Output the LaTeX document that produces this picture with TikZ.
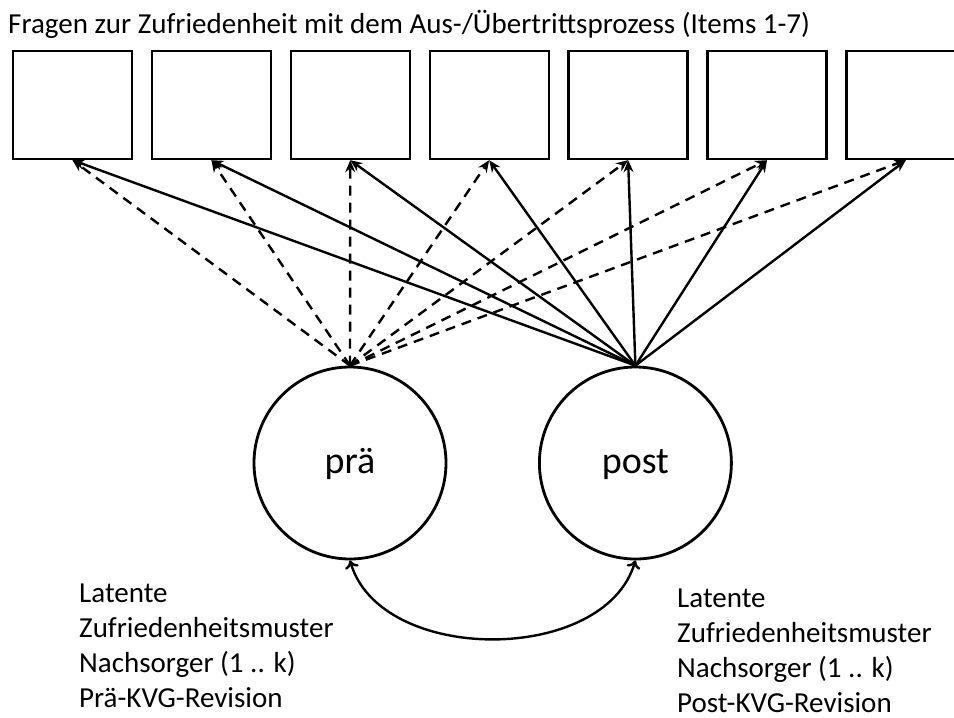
\documentclass[tikz,border=0pt]{standalone}
\usepackage{fontspec}
\setmainfont{Carlito}
\usetikzlibrary{automata, positioning, arrows.meta}

\begin{document}
\begin{tikzpicture}[x=1pt, y=-1pt, node distance=17.5pt,
	item/.style={draw, line width=2.4pt, minimum width=119pt, minimum height=108pt, inner sep=0pt},
	latent/.style={state, line width=2.8pt, minimum size=192pt, inner sep=0pt, text height=20pt, text depth=0pt, font=\fontsize{38}{42}\selectfont},
	preload/.style={line width=2.4pt, -{Stealth[length=12pt,width=10pt]}, dash pattern=on 10pt off 7pt},
	postload/.style={line width=2.4pt, -{Stealth[length=12pt,width=10pt]}},
	note/.style={align=left, anchor=base west, inner sep=0pt, font=\fontsize{29}{34.8}\selectfont}]
		\useasboundingbox (0,0) rectangle (954,718);
		
		\node[anchor=base west, inner sep=0pt, font=\fontsize{29}{34}\selectfont] (title) at (8,33) {Fragen zur Zufriedenheit mit dem Aus-/Übertrittsprozess (Items 1-7)};
		
		\node[item] (i1) at (72.5,105) {};
		\node[item, right=of i1] (i2) {};
		\node[item, right=of i2] (i3) {};
		\node[item, right=of i3] (i4) {};
		\node[item, right=of i4] (i5) {};
		\node[item, right=of i5] (i6) {};
		\node[item, right=of i6] (i7) {};
		
		\node[latent] (pra) at (350,463) {prä};
		\node[latent, right=90.6pt of pra] (post) {post};
		
		\draw (pra.north) edge[preload] (i1.south);
		\draw (pra.north) edge[preload] (i2.south);
		\draw (pra.north) edge[preload] (i3.south);
		\draw (pra.north) edge[preload] (i4.south);
		\draw (pra.north) edge[preload] (i5.south);
		\draw (pra.north) edge[preload] (i6.south);
		\draw (pra.north) edge[preload] (i7.south);
		
		\draw (post.north) edge[postload] (i1.south);
		\draw (post.north) edge[postload] (i2.south);
		\draw (post.north) edge[postload] (i3.south);
		\draw (post.north) edge[postload] (i4.south);
		\draw (post.north) edge[postload] (i5.south);
		\draw (post.north) edge[postload] (i6.south);
		\draw (post.north) edge[postload] (i7.south);
		
		\draw[line width=2.4pt, {To[length=8pt,width=14pt]}-{To[length=8pt,width=14pt]}] (pra.south) .. controls (380,665) and (605,665) .. (post.south);
		
		\node[note] (prenote) at (79,707) {Latente\\Zufriedenheitsmuster\\Nachsorger (1 .. k)\\Prä-KVG-Revision};
		\node[note] (postnote) at (677,712) {Latente\\Zufriedenheitsmuster\\Nachsorger (1 .. k)\\Post-KVG-Revision};
	\end{tikzpicture}
\end{document}
